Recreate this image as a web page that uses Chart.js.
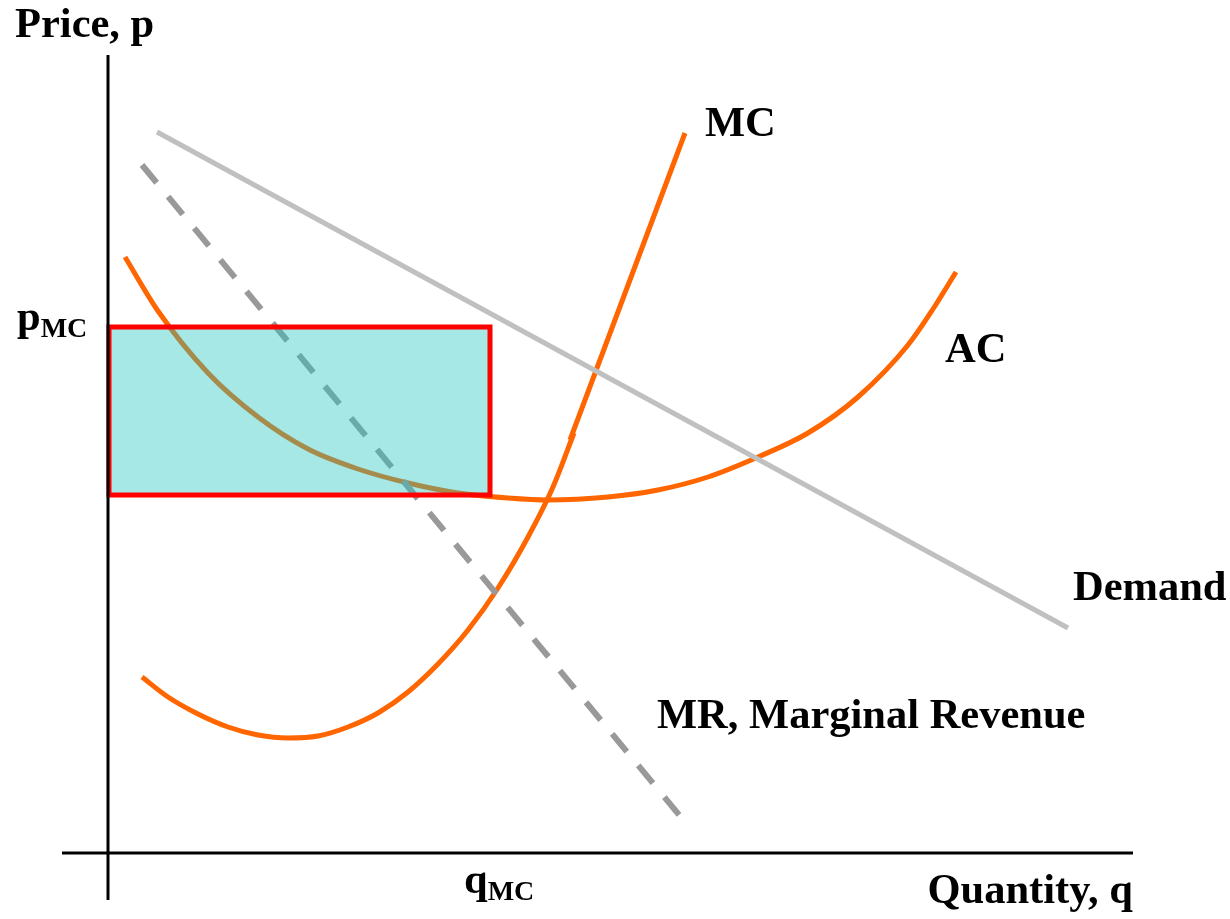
<!DOCTYPE html>
<html>
<head>
<meta charset="utf-8">
<title>Monopoly profit</title>
<script src="https://cdn.jsdelivr.net/npm/chart.js@4.4.0/dist/chart.umd.min.js"></script>
<style>
  body { margin: 0; background: #fff; }
  #wrap { width: 1230px; height: 919px; }
</style>
</head>
<body>
<div id="wrap"><canvas id="econChart" width="1230" height="919"></canvas></div>
<script>
// curves, as [quantity, price]
const acPoints = [
  [1.7, 59.6], [5, 54.2], [10, 48.0], [15, 43.6], [20, 40.4], [25, 38.4], [30, 37.0],
  [35, 36.0], [40, 35.5], [44, 35.3], [50, 35.6], [55, 36.3], [60, 37.6], [65, 39.6],
  [70, 42.0], [75, 45.6], [80, 50.8], [82.5, 54.4], [84.8, 58.1]
];
const mcLower = [
  [3.4, 17.6], [6, 15.6], [9, 13.9], [12, 12.6], [15, 11.8], [18, 11.5], [21, 11.7],
  [24, 12.6], [27, 14.0], [30, 16.1], [33, 18.9], [36, 22.3], [39, 26.5], [42, 31.6],
  [44.5, 36.6], [46.6, 42.0]
];
const mcUpper = [[46.2, 41.3], [57.7, 72.0]];
const demandPoints = [[4.9, 72.1], [96.0, 22.5]];
const mrPoints = [[3.4, 68.8], [57.7, 3.1]];

// monopoly output / price box
const qMC = 38.2;
const pMC = 52.6;
const acAtQ = 35.8;

// axis ranges
const qRange = [-4.6, 102.5];
const pRange = [-4.7, 79.8];

const labels = [
  { text: "MC", at: [59.7, 71.7] },
  { text: "AC", at: [83.7, 49.1] },
  { text: "Demand", at: [96.5, 25.3] },
  { text: "MR, Marginal Revenue", at: [54.9, 12.5] },
  { text: "Price, p", at: [-9.3, 81.6] },
  { text: "Quantity, q", at: [102.5, -5.0], align: "right" }
];

const orange = "#ff6600";
const serif = "'Liberation Serif', 'Times New Roman', serif";
const bigFont = "bold 42.5px " + serif;

const toXY = arr => arr.map(p => ({ x: p[0], y: p[1] }));

function lineSet(label, pts, color, width, extra) {
  return Object.assign({
    label: label,
    data: toXY(pts),
    showLine: true,
    borderColor: color,
    borderWidth: width,
    pointRadius: 0,
    fill: false,
    cubicInterpolationMode: "monotone",
    borderCapStyle: "butt"
  }, extra || {});
}

const overlay = {
  id: "overlay",
  afterDatasetsDraw(chart) {
    const ctx = chart.ctx;
    const xs = chart.scales.x, ys = chart.scales.y;
    const area = chart.chartArea;

    // profit rectangle
    const x0 = xs.getPixelForValue(0), x1 = xs.getPixelForValue(qMC);
    const y0 = ys.getPixelForValue(pMC), y1 = ys.getPixelForValue(acAtQ);
    ctx.save();
    ctx.fillStyle = "rgba(30, 197, 192, 0.4)";
    ctx.fillRect(x0, y0, x1 - x0, y1 - y0);
    ctx.strokeStyle = "#ff0000";
    ctx.lineWidth = 5;
    ctx.strokeRect(x0 + 1, y0, x1 - x0 - 1, y1 - y0);

    // axes
    ctx.strokeStyle = "#000";
    ctx.lineWidth = 3;
    ctx.beginPath();
    ctx.moveTo(x0, area.top);
    ctx.lineTo(x0, area.bottom);
    const yAxis = ys.getPixelForValue(0);
    ctx.moveTo(area.left, yAxis);
    ctx.lineTo(area.right, yAxis);
    ctx.stroke();

    // text
    ctx.fillStyle = "#000";
    ctx.textBaseline = "alphabetic";
    ctx.font = bigFont;
    labels.forEach(l => {
      ctx.textAlign = l.align || "left";
      ctx.fillText(l.text, xs.getPixelForValue(l.at[0]), ys.getPixelForValue(l.at[1]));
    });

    // subscripted labels
    ctx.textAlign = "left";
    const sub = (main, mx, my) => {
      ctx.font = bigFont;
      ctx.fillText(main, mx, my);
      const w = ctx.measureText(main).width;
      ctx.font = "bold 28px " + serif;
      ctx.fillText("MC", mx + w, my + 7);
    };
    sub("p", xs.getPixelForValue(-9.1), ys.getPixelForValue(pMC - 0.3));
    sub("q", xs.getPixelForValue(qMC - 2.6), ys.getPixelForValue(-4.0));
    ctx.restore();
  }
};

const ctx = document.getElementById("econChart").getContext("2d");

const econChart = new Chart(ctx, {
  type: "scatter",
  data: {
    datasets: [
      lineSet("Demand", demandPoints, "#c0c0c0", 5),
      lineSet("MR", mrPoints, "#999999", 6, { borderDash: [23, 18] }),
      lineSet("AC", acPoints, orange, 5),
      lineSet("MC", mcLower, orange, 5),
      lineSet("MC upper", mcUpper, orange, 5)
    ]
  },
  options: {
    responsive: false,
    animation: false,
    devicePixelRatio: 1,
    layout: { padding: { left: 62, right: 97, top: 55, bottom: 19 } },
    plugins: { legend: { display: false }, tooltip: { enabled: false } },
    scales: {
      x: { type: "linear", min: qRange[0], max: qRange[1], display: false },
      y: { type: "linear", min: pRange[0], max: pRange[1], display: false }
    }
  },
  plugins: [overlay]
});
</script>
</body>
</html>
